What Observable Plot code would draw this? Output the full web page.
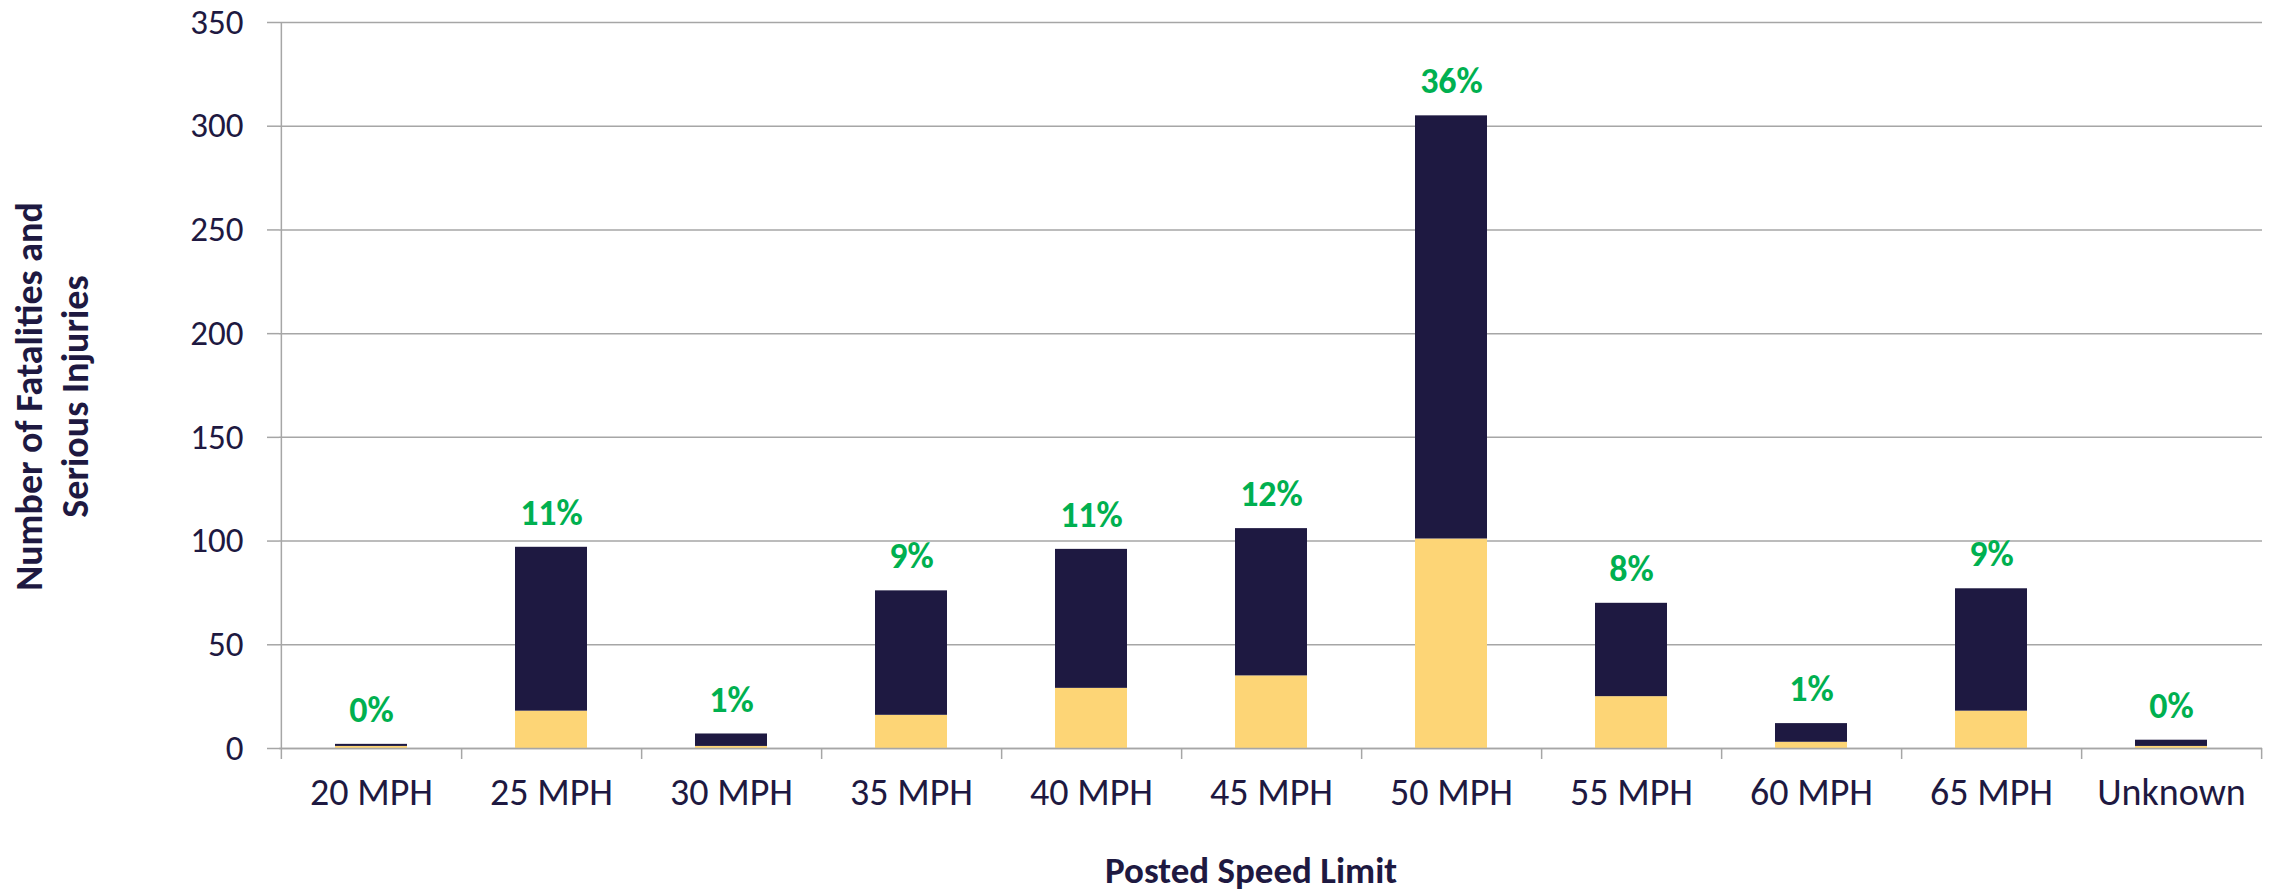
<!DOCTYPE html>
<html><head><meta charset="utf-8">
<script src="https://cdn.jsdelivr.net/npm/d3@7"></script>
<script src="https://cdn.jsdelivr.net/npm/@observablehq/plot@0.6"></script>
<style>body{margin:0;background:#fff} svg{display:block}</style>
</head><body><div id="chart"></div>
<script>
const categories = ["20 MPH","25 MPH","30 MPH","35 MPH","40 MPH","45 MPH","50 MPH","55 MPH","60 MPH","65 MPH","Unknown"];
const seriesNames = ["Fatalities","Serious Injuries"];
const fatalities = [1,18,1,16,29,35,101,25,3,18,1];        // yellow (bottom)
const seriousInjuries = [1,79,6,60,67,71,204,45,9,59,3];  // navy (top)
const pctLabels = ["0%","11%","1%","9%","11%","12%","36%","8%","1%","9%","0%"];
const yTicks = [0,50,100,150,200,250,300,350];
const yTitle = "Number of Fatalities and\nSerious Injuries";
const xTitle = "Posted Speed Limit";

const NAVY = "#1E1941", YELLOW = "#FDD576", GREEN = "#00B050", GRID = "#a6a6a6";
const W = 2277, H = 894, ML = 279, MR = 15, MT = 22, MB = 146;
const step = (W - ML - MR) / categories.length;
const FONT = "Carlito, Calibri, Lato, sans-serif";

const rows = categories.flatMap((c, i) => [
  {cat: c, series: seriesNames[0], value: fatalities[i]},
  {cat: c, series: seriesNames[1], value: seriousInjuries[i]}
]);
const totals = categories.map((c, i) => ({cat: c, total: fatalities[i] + seriousInjuries[i], pct: pctLabels[i]}));

const chart = Plot.plot({
  width: W, height: H,
  marginLeft: ML, marginRight: MR, marginTop: MT, marginBottom: MB,
  style: {fontFamily: FONT, fontSize: "36px", color: NAVY, background: "#fff"},
  x: {type: "band", domain: categories, paddingInner: 0.6, paddingOuter: 0.3},
  y: {domain: [0, 350]},
  color: {domain: seriesNames, range: [YELLOW, NAVY]},
  marks: [
    Plot.gridY(yTicks, {stroke: GRID, strokeOpacity: 1, strokeWidth: 1.5}),
    Plot.axisY({ticks: yTicks, tickSize: 12, tickPadding: 24, stroke: GRID, strokeOpacity: 1, strokeWidth: 1.5, fill: NAVY, fontSize: 35, label: null}),
    Plot.axisX({tickSize: 0, tickPadding: 30, fill: NAVY, fontSize: 38, label: null}),
    Plot.barY(rows, {x: "cat", y: "value", fill: "series"}),
    Plot.ruleX([categories[0]], {x: d => d, dx: -step / 2, y1: 350, y2: 0, insetBottom: -11, stroke: GRID, strokeWidth: 1.5}),
    Plot.ruleX(categories, {x: d => d, dx: step / 2, y1: 0, y2: 0, insetBottom: -11, stroke: GRID, strokeWidth: 1.5}),
    Plot.ruleY([0], {stroke: GRID, strokeWidth: 1.5}),
    Plot.text(totals, {x: "cat", y: "total", text: "pct", dy: -34, fill: GREEN, fontWeight: "bold", fontSize: 36}),
    Plot.text([yTitle], {text: d => d, frameAnchor: "left", textAnchor: "middle", rotate: -90, dx: -229.5, dy: 11, lineAnchor: "middle", lineHeight: 1.21, fontWeight: "bold", fontSize: 38, fill: NAVY}),
    Plot.text([xTitle], {text: d => d, frameAnchor: "bottom", textAnchor: "middle", dy: 123, dx: -20, lineAnchor: "middle", fontWeight: "bold", fontSize: 37, fill: NAVY})
  ]
});
document.getElementById("chart").append(chart);
</script>
</body></html>
